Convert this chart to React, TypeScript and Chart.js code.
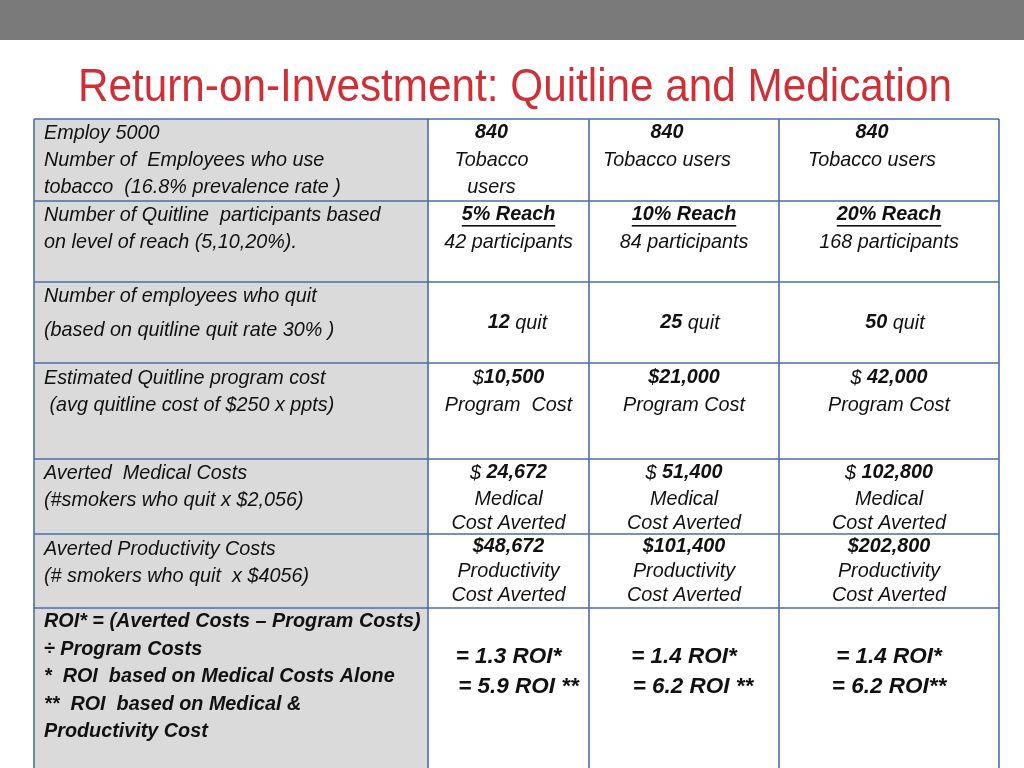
import { useEffect, useRef } from "react";
import { Chart, registerables } from "chart.js";
Chart.register(...registerables);

// ---------- data ----------
const titleText = "Return-on-Investment: Quitline and Medication";
const reachPct = [5, 10, 20];
const tobaccoUsers = [840, 840, 840];
const participants = [42, 84, 168];
const quitters = [12, 25, 50];
const programCost = [10500, 21000, 42000];
const medicalAverted = [24672, 51400, 102800];
const productivityAverted = [48672, 101400, 202800];
const roiMedical = [1.3, 1.4, 1.4];
const roiTotal = [5.9, 6.2, 6.2];
const rowLabels: string[][] = [
  ["Employ 5000", "Number of  Employees who use", "tobacco  (16.8% prevalence rate )"],
  ["Number of Quitline  participants based", "on level of reach (5,10,20%)."],
  ["Number of employees who quit", "(based on quitline quit rate 30% )"],
  ["Estimated Quitline program cost", " (avg quitline cost of $250 x ppts)"],
  ["Averted  Medical Costs", "(#smokers who quit x $2,056)"],
  ["Averted Productivity Costs", "(# smokers who quit  x $4056)"],
  [
    "ROI* = (Averted Costs \u2013 Program Costs)",
    "\u00f7 Program Costs",
    "*  ROI  based on Medical Costs Alone",
    "**  ROI  based on Medical &",
    "Productivity Cost",
  ],
];
const boldLabelRows = [false, false, false, false, false, false, true];

// ---------- layout ----------
const COL_EDGES = [34, 428, 589, 779, 999];
const ROW_EDGES = [119, 201, 282, 363, 459, 534, 608, 780];
const LABEL_LINES_Y = [
  [133, 160, 187],
  [215, 242],
  [296, 330],
  [378, 405],
  [473, 500],
  [549, 576],
  [622, 650, 677, 705, 732],
];
const CELL_LINES_Y = [
  [133, 160, 187],
  [215, 242],
  [323],
  [378, 405],
  [473, 499, 523],
  [547, 571, 595],
  [657, 687],
];
const BASE_SIZE = 19.8;
const ROI_SIZE = 22.5;
const FIRST_ROW_SHIFT = -17;
const QUIT_SHIFT = [9, 6, 6];
const ROI2_SHIFT = [10, 9, 0];

type Run = { t: string; b?: boolean; u?: boolean; s?: number };
const fmt = (n: number) => n.toLocaleString("en-US");

function cellLines(row: number, j: number): { runs: Run[]; dx?: number }[] {
  switch (row) {
    case 0:
      return j === 0
        ? [
            { runs: [{ t: String(tobaccoUsers[j]), b: true }], dx: FIRST_ROW_SHIFT },
            { runs: [{ t: "Tobacco" }], dx: FIRST_ROW_SHIFT },
            { runs: [{ t: "users" }], dx: FIRST_ROW_SHIFT },
          ]
        : [
            { runs: [{ t: String(tobaccoUsers[j]), b: true }], dx: FIRST_ROW_SHIFT },
            { runs: [{ t: "Tobacco users" }], dx: FIRST_ROW_SHIFT },
          ];
    case 1:
      return [
        { runs: [{ t: `${reachPct[j]}% Reach`, b: true, u: true }] },
        { runs: [{ t: `${participants[j]} participants` }] },
      ];
    case 2:
      return [{ runs: [{ t: String(quitters[j]), b: true }, { t: " quit" }], dx: QUIT_SHIFT[j] }];
    case 3: {
      const v = fmt(programCost[j]);
      const first: Run[] =
        j === 0 ? [{ t: "$" }, { t: v, b: true }] : j === 1 ? [{ t: "$" + v, b: true }] : [{ t: "$ " }, { t: v, b: true }];
      return [{ runs: first }, { runs: [{ t: j === 0 ? "Program  Cost" : "Program Cost" }] }];
    }
    case 4:
      return [
        { runs: [{ t: "$ " }, { t: fmt(medicalAverted[j]), b: true }] },
        { runs: [{ t: "Medical" }] },
        { runs: [{ t: "Cost Averted" }] },
      ];
    case 5:
      return [
        { runs: [{ t: "$" + fmt(productivityAverted[j]), b: true }] },
        { runs: [{ t: "Productivity" }] },
        { runs: [{ t: "Cost Averted" }] },
      ];
    default:
      return [
        { runs: [{ t: `= ${roiMedical[j].toFixed(1)} ROI*`, b: true, s: ROI_SIZE }] },
        { runs: [{ t: `= ${roiTotal[j].toFixed(1)} ROI${j < 2 ? " **" : "**"}`, b: true, s: ROI_SIZE }], dx: ROI2_SHIFT[j] },
      ];
  }
}

const FONT = '"Liberation Sans", Arial, Helvetica, sans-serif';
const fontOf = (r: Run) => `italic ${r.b ? "bold " : ""}${r.s || BASE_SIZE}px ${FONT}`;

function drawRuns(ctx: CanvasRenderingContext2D, runs: Run[], x: number, y: number, center: boolean) {
  const widths = runs.map((r) => {
    ctx.font = fontOf(r);
    return ctx.measureText(r.t).width;
  });
  const total = widths.reduce((a, b) => a + b, 0);
  let sx = center ? x - total / 2 : x;
  runs.forEach((r, i) => {
    ctx.font = fontOf(r);
    ctx.fillText(r.t, sx, y);
    if (r.u) {
      ctx.fillRect(sx, y + 10, widths[i], 1.6);
    }
    sx += widths[i];
  });
}

const tablePlugin = {
  id: "tablePlugin",
  afterDraw(chart: any) {
    const ctx: CanvasRenderingContext2D = chart.ctx;
    const xs = chart.scales.x;
    const ys = chart.scales.y;
    const X = (v: number) => xs.getPixelForValue(v);
    const Y = (v: number) => ys.getPixelForValue(v);
    ctx.save();
    ctx.fillStyle = "#ffffff";
    ctx.fillRect(X(0), Y(0), X(1024) - X(0), Y(768) - Y(0));
    ctx.fillStyle = "#7a7a7a";
    ctx.fillRect(X(0), Y(0), X(1024) - X(0), Y(40) - Y(0));
    // title
    ctx.fillStyle = "#cf2f37";
    ctx.font = `46px "Liberation Sans Narrow", "Liberation Sans", Arial, sans-serif`;
    ctx.textBaseline = "alphabetic";
    ctx.textAlign = "left";
    const tw = ctx.measureText(titleText).width;
    const targetW = X(952) - X(78);
    ctx.save();
    ctx.translate(X(78), Y(101));
    ctx.scale(targetW / tw, 1);
    ctx.fillText(titleText, 0, 0);
    ctx.restore();

    const top = ROW_EDGES[0];
    const bottom = ROW_EDGES[ROW_EDGES.length - 1];
    ctx.fillStyle = "#dadada";
    ctx.fillRect(X(COL_EDGES[0]), Y(top), X(COL_EDGES[1]) - X(COL_EDGES[0]), Y(bottom) - Y(top));

    ctx.strokeStyle = "#4a6fa6";
    ctx.lineWidth = 1.6;
    ctx.beginPath();
    COL_EDGES.forEach((c) => {
      ctx.moveTo(X(c), Y(top));
      ctx.lineTo(X(c), Y(bottom));
    });
    ROW_EDGES.slice(0, -1).forEach((r) => {
      ctx.moveTo(X(COL_EDGES[0]), Y(r));
      ctx.lineTo(X(COL_EDGES[COL_EDGES.length - 1]), Y(r));
    });
    ctx.stroke();

    ctx.fillStyle = "#111111";
    ctx.textBaseline = "middle";
    rowLabels.forEach((lines, i) => {
      lines.forEach((line, k) => {
        drawRuns(ctx, [{ t: line, b: boldLabelRows[i] }], X(44), Y(LABEL_LINES_Y[i][k]), false);
      });
    });
    for (let row = 0; row < rowLabels.length; row++) {
      for (let j = 0; j < 3; j++) {
        const cx = (X(COL_EDGES[j + 1]) + X(COL_EDGES[j + 2])) / 2;
        cellLines(row, j).forEach((ln, k) => {
          drawRuns(ctx, ln.runs, cx + (ln.dx || 0), Y(CELL_LINES_Y[row][k]), true);
        });
      }
    }
    ctx.restore();
  },
};

export default function App() {
  const ref = useRef<HTMLCanvasElement>(null);
  useEffect(() => {
    document.body.style.margin = "0";
    const chart = new Chart(ref.current as HTMLCanvasElement, {
      type: "scatter",
      data: { datasets: [{ data: [] }] },
      options: {
        animation: false,
        responsive: false,
        maintainAspectRatio: false,
        layout: { padding: 0 },
        plugins: { legend: { display: false }, tooltip: { enabled: false } },
        scales: {
          x: { type: "linear", min: 0, max: 1024, display: false },
          y: { type: "linear", min: 0, max: 768, reverse: true, display: false },
        },
      },
      plugins: [tablePlugin],
    });
    return () => chart.destroy();
  }, []);
  return (
    <div style={{ width: 1024, height: 768 }}>
      <canvas ref={ref} width={1024} height={768} style={{ display: "block" }} />
    </div>
  );
}
